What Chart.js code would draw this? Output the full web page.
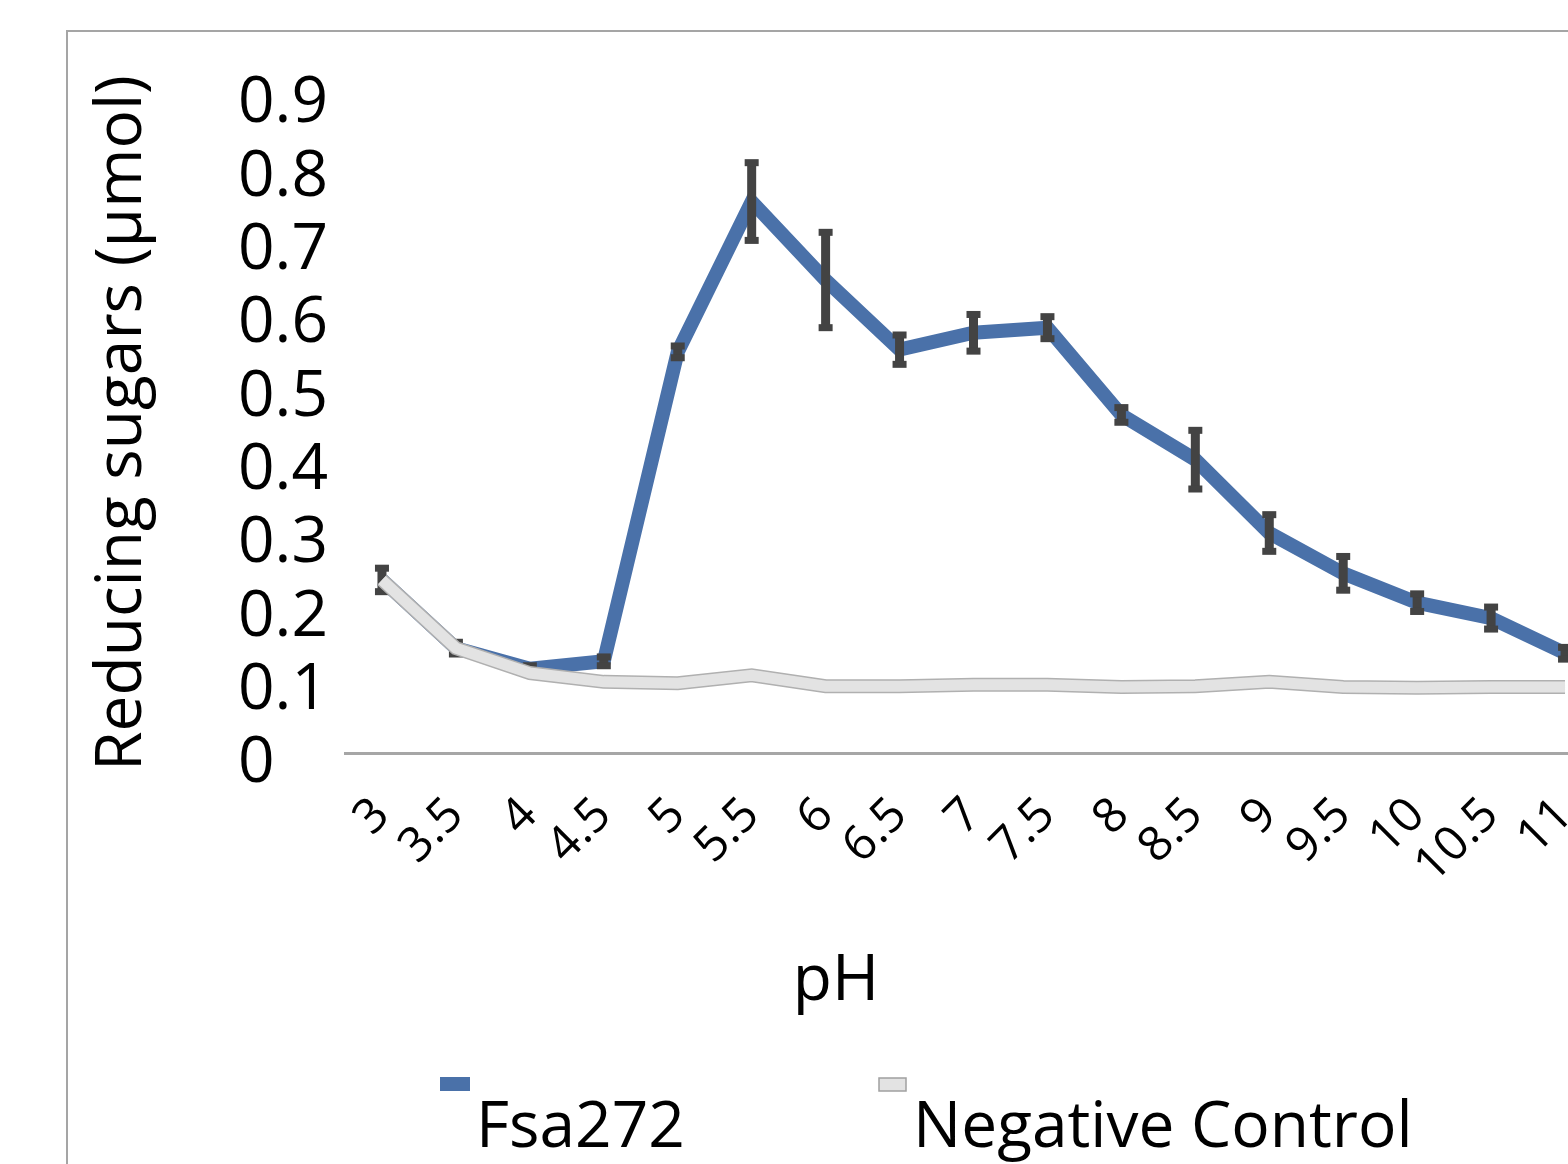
<!DOCTYPE html>
<html lang="en">
<head>
<meta charset="UTF-8">
<title>Reducing sugars vs pH</title>
<script src="https://cdn.jsdelivr.net/npm/chart.js@4.4.0/dist/chart.umd.min.js"></script>
<style>
    html, body { margin: 0; padding: 0; background: #fff; overflow: hidden; }
    body { width: 1568px; height: 1164px; position: relative; }
    .frame {
        position: absolute; left: 66px; top: 30px;
        width: 2000px; height: 2000px;
        border: 2px solid #a5a5a5;
    }
    .chart-box { position: absolute; left: 0; top: 0; width: 1602px; height: 1164px; }
</style>
</head>
<body>
<div class="frame"></div>
<div class="chart-box"><canvas id="phChart" width="1602" height="1164"></canvas></div>

<script>
// pH values on the x axis
const phLabels = ['3', '3.5', '4', '4.5', '5', '5.5', '6', '6.5', '7', '7.5',
                  '8', '8.5', '9', '9.5', '10', '10.5', '11'];

// reducing sugars (µmol)
const fsa272     = [0.236, 0.143, 0.115, 0.125, 0.547, 0.752, 0.645, 0.55, 0.573, 0.58,
                    0.461, 0.40, 0.30, 0.245, 0.205, 0.184, 0.136];
const fsa272Err  = [0.016, 0.008, 0.004, 0.006, 0.008, 0.053, 0.065, 0.02, 0.025, 0.015,
                    0.01, 0.04, 0.025, 0.023, 0.012, 0.015, 0.008];
const negControl = [0.236, 0.143, 0.109, 0.097, 0.095, 0.106, 0.091, 0.091, 0.093, 0.093,
                    0.09, 0.091, 0.097, 0.09, 0.089, 0.09, 0.09];

const seriesNames = ['Fsa272', 'Negative Control'];
const yTitle = 'Reducing sugars (µmol)';
const xTitle = 'pH';

const BLUE = '#4a71a9';
const FONT = '"Open Sans", sans-serif';

Chart.defaults.font.family = FONT;
Chart.defaults.color = '#000';

// error bars on the Fsa272 line
const errorBars = {
    id: 'errorBars',
    afterDatasetDraw(chart, args) {
        if (args.index !== 0) return;
        const { ctx, scales: { x, y } } = chart;
        ctx.save();
        ctx.fillStyle = '#434343';
        fsa272.forEach((v, i) => {
            const e = fsa272Err[i];
            if (!e) return;
            const px = x.getPixelForValue(i);
            const top = y.getPixelForValue(v + e);
            const bot = y.getPixelForValue(v - e);
            ctx.fillRect(px - 4.5, top, 9, bot - top);
            ctx.fillRect(px - 7, top - 3.5, 14, 7);
            ctx.fillRect(px - 7, bot - 3.5, 14, 7);
        });
        ctx.restore();
    }
};

// x title and legend placed like the original figure
const extras = {
    id: 'extras',
    afterDraw(chart) {
        const ctx = chart.ctx;
        ctx.save();
        ctx.font = '64px ' + FONT;
        ctx.fillStyle = '#000';
        ctx.textBaseline = 'alphabetic';
        ctx.textAlign = 'center';
        ctx.fillText(xTitle, 836, 1000);

        ctx.textAlign = 'left';
        ctx.fillStyle = BLUE;
        ctx.fillRect(440, 1077, 30, 14);
        ctx.fillStyle = '#000';
        ctx.fillText(chart.data.datasets[0].label, 476, 1147);

        ctx.fillStyle = '#e3e3e3';
        ctx.fillRect(879, 1078, 27, 13);
        ctx.strokeStyle = '#a0a0a0';
        ctx.lineWidth = 1.5;
        ctx.strokeRect(879, 1078, 27, 13);
        ctx.fillStyle = '#000';
        ctx.fillText(chart.data.datasets[2].label, 913, 1147);
        ctx.restore();
    }
};

new Chart(document.getElementById('phChart'), {
    type: 'line',
    data: {
        labels: phLabels,
        datasets: [
            {
                label: seriesNames[0],
                data: fsa272,
                borderColor: BLUE,
                borderWidth: 14,
                borderJoinStyle: 'miter',
                pointRadius: 0,
                order: 2
            },
            {
                label: seriesNames[1] + ' outline',
                data: negControl,
                borderColor: '#b0b0b0',
                borderWidth: 14,
                pointRadius: 0,
                order: 1
            },
            {
                label: seriesNames[1],
                data: negControl,
                borderColor: '#e3e3e3',
                borderWidth: 11,
                pointRadius: 0,
                order: 0
            }
        ]
    },
    options: {
        responsive: false,
        animation: false,
        layout: { padding: { top: 93, right: 0, left: 238, bottom: 0 } },
        plugins: {
            legend: { display: false },
            tooltip: { enabled: false }
        },
        scales: {
            x: {
                offset: true,
                grid: { display: false, offset: true },
                border: { display: true, color: '#a6a6a6', width: 3 },
                ticks: {
                    font: { size: 48 },
                    minRotation: 45,
                    maxRotation: 45,
                    autoSkip: false,
                    padding: 26
                },
                afterFit(scale) {
                    scale.height = 1164 - 753;
                    scale.paddingLeft = 0;
                    scale.paddingRight = 0;
                }
            },
            y: {
                min: 0,
                max: 0.9,
                grid: { display: false },
                border: { display: false },
                ticks: {
                    stepSize: 0.1,
                    autoSkip: false,
                    crossAlign: 'far',
                    font: { size: 64 },
                    labelOffset: 11,
                    callback: v => String(Number(v.toFixed(1)))
                },
                title: {
                    display: true,
                    text: yTitle,
                    font: { size: 64 },
                    // title sits left of the tick labels, outside the scale box
                    padding: { top: -154, bottom: 0 }
                },
                afterFit(scale) {
                    scale.width = 345 - 238;
                }
            }
        }
    },
    plugins: [errorBars, extras]
});
</script>
</body>
</html>
